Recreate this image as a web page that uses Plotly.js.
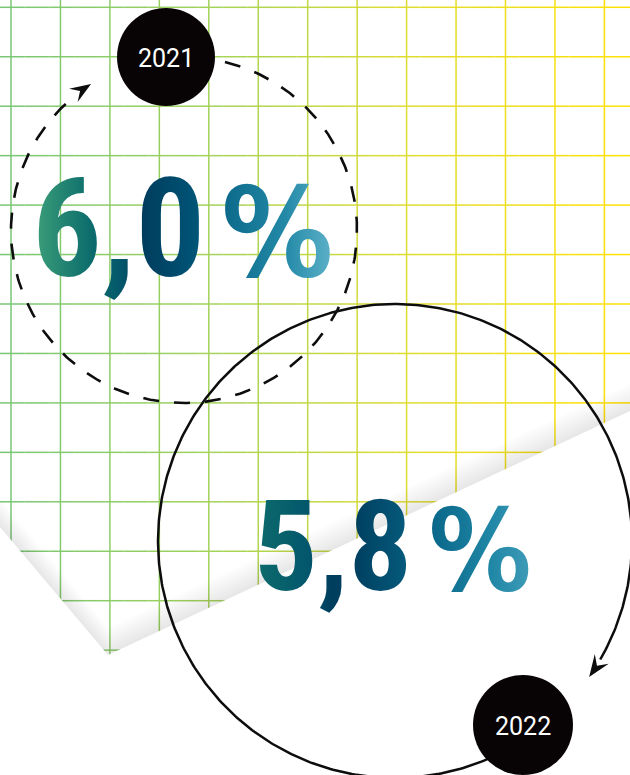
<!DOCTYPE html>
<html>
<head>
<meta charset="utf-8">
<script src="https://cdn.plot.ly/plotly-3.0.1.min.js"></script>
<style>
html,body{margin:0;padding:0;background:#fff;overflow:hidden}
#chart{width:630px;height:775px}
</style>
</head>
<body>
<div id="chart"></div>
<script>
// ---- data ----
const years = ['2021', '2022'];
const rates = [6.0, 5.8];
const rateNumbers = rates.map(v => v.toFixed(1).replace('.', ','));
const rateLabels = rateNumbers.map(s => s + ' %');

// ---- canvas geometry (pixel-like data space) ----
const W = 630, H = 775;
const GX0 = 11, GY0 = 7.3, STEP = 49.45;

function lerp(a, b, t) { return a + (b - a) * t; }
const gridStops = [[0, [118, 198, 118]], [200, [160, 210, 92]], [400, [222, 220, 50]], [630, [255, 226, 0]]];
function gridColor(x) {
  for (let i = 0; i < gridStops.length - 1; i++) {
    const [xa, ca] = gridStops[i], [xb, cb] = gridStops[i + 1];
    if (x <= xb) {
      const t = Math.max(0, (x - xa) / (xb - xa));
      return 'rgb(' + ca.map((c, k) => Math.round(lerp(c, cb[k], t))).join(',') + ')';
    }
  }
  return 'rgb(255,226,0)';
}

const shapes = [];
for (let x = GX0; x < W; x += STEP) {
  shapes.push({type: 'line', layer: 'below', xref: 'x', yref: 'y', x0: x, x1: x, y0: 0, y1: H,
    line: {color: gridColor(x), width: 1.5}});
}
for (let y = GY0; y < H; y += STEP) {
  for (let x = 0; x < W; x += STEP / 2) {
    const x1 = Math.min(W, x + STEP / 2);
    shapes.push({type: 'line', layer: 'below', xref: 'x', yref: 'y', x0: x, x1: x1, y0: y, y1: y,
      line: {color: gridColor((x + x1) / 2), width: 1.5}});
  }
}
// paper edge
const cut = [[0, 527], [108, 655], [630, 411], [630, H], [0, H]];
function polyPath(pts, dy) {
  return 'M' + pts.map(p => p[0] + ',' + (p[1] - dy)).join(' L') + ' Z';
}
for (let k = 1; k <= 12; k++) {
  shapes.push({type: 'path', layer: 'below', xref: 'x', yref: 'y', path: polyPath(cut, k * 2.3),
    fillcolor: 'rgba(120,120,120,0.011)', line: {width: 0}});
}
shapes.push({type: 'path', layer: 'below', xref: 'x', yref: 'y', path: polyPath(cut, 0),
  fillcolor: '#ffffff', line: {width: 0}});

// ---- circles ----
const deg = Math.PI / 180;
function arcPts(cx, cy, r, a0, a1, n) {
  const xs = [], ys = [];
  for (let i = 0; i <= n; i++) {
    const a = (a0 + (a1 - a0) * i / n) * deg;
    xs.push(cx + r * Math.cos(a));
    ys.push(cy - r * Math.sin(a));
  }
  return {xs, ys};
}
function arrowHead(cx, cy, r, aTip, L, Wd) {
  const a = aTip * deg;
  const T = [cx + r * Math.cos(a), cy - r * Math.sin(a)];
  const d = [Math.sin(a), Math.cos(a)];
  const n = [-d[1], d[0]];
  const B1 = [T[0] - L * d[0] + Wd * n[0], T[1] - L * d[1] + Wd * n[1]];
  const B2 = [T[0] - L * d[0] - Wd * n[0], T[1] - L * d[1] - Wd * n[1]];
  const N = [T[0] - 0.62 * L * d[0], T[1] - 0.62 * L * d[1]];
  return 'M' + [T, B1, N, B2].map(p => p[0].toFixed(2) + ',' + p[1].toFixed(2)).join(' L') + ' Z';
}

const C1 = {cx: 184, cy: 230, r: 173};
const C2 = {cx: 395, cy: 541, r: 237};
const a1 = arcPts(C1.cx, C1.cy, C1.r, 76.3, -231, 400);
const a2 = arcPts(C2.cx, C2.cy, C2.r, -58, -390, 500);

const data = [
  {type: 'scatter', mode: 'lines', x: a1.xs, y: a1.ys, hoverinfo: 'skip',
   line: {color: '#0d0d0d', width: 2.6, dash: '16px,15px'}},
  {type: 'scatter', mode: 'lines', x: a2.xs, y: a2.ys, hoverinfo: 'skip',
   line: {color: '#0d0d0d', width: 2.5}}
];

shapes.push({type: 'path', layer: 'above', xref: 'x', yref: 'y', path: arrowHead(C1.cx, C1.cy, C1.r, -237.5, 21, 8),
  fillcolor: '#0d0d0d', line: {width: 0}});
shapes.push({type: 'path', layer: 'above', xref: 'x', yref: 'y', path: arrowHead(C2.cx, C2.cy, C2.r, -395, 22, 8.5),
  fillcolor: '#0d0d0d', line: {width: 0}});

const badges = [{x: 166, y: 57, r: 49}, {x: 523, y: 725, r: 50}];
badges.forEach(b => shapes.push({type: 'circle', layer: 'above', xref: 'x', yref: 'y',
  x0: b.x - b.r, x1: b.x + b.r, y0: b.y - b.r, y1: b.y + b.r, fillcolor: '#080405', line: {width: 0}}));

const annotations = [];
years.forEach((yr, i) => annotations.push({x: badges[i].x, y: badges[i].y + 1, xref: 'x', yref: 'y',
  text: yr, showarrow: false, xanchor: 'center', yanchor: 'middle',
  font: {family: 'Roboto, Inter, sans-serif', size: 25, color: '#ffffff', weight: 400}}));

const bigPos = [{x: 30, y: 229, size: 138, gap: 70, pct: 124}, {x: 252, y: 547, size: 126, gap: 72, pct: 114}];
const bigFont = '"Liberation Sans Narrow", "Roboto Condensed", "DejaVu Sans Condensed", sans-serif';
rateNumbers.forEach((num, i) => {
  const txt = num + '<span style="font-size:' + bigPos[i].gap + 'px"> </span>' +
    '<span style="font-family:DejaVu Sans Condensed,DejaVu Sans;font-size:' + bigPos[i].pct + 'px">%</span>';
  annotations.push({x: bigPos[i].x, y: bigPos[i].y, xref: 'x', yref: 'y',
    text: txt, showarrow: false, xanchor: 'left', yanchor: 'middle',
    font: {family: bigFont, size: bigPos[i].size, color: '#005070', weight: 700}});
});

const layout = {
  width: W, height: H,
  margin: {l: 0, r: 0, t: 0, b: 0, pad: 0},
  paper_bgcolor: '#ffffff', plot_bgcolor: '#ffffff',
  showlegend: false,
  xaxis: {range: [0, W], visible: false, fixedrange: true},
  yaxis: {range: [H, 0], visible: false, fixedrange: true},
  shapes: shapes,
  annotations: annotations
};

const gradients = [
  [[0, '#3da079'], [0.2, '#0b6b6c'], [0.3, '#04566a'], [0.36, '#003c5c'], [0.55, '#005577'],
   [0.66, '#0f6d8e'], [0.84, '#2389a7'], [1, '#5fb2c9']],
  [[0, '#0c6c6b'], [0.2, '#03566c'], [0.28, '#003e5e'], [0.36, '#003f60'], [0.55, '#055a7b'],
   [0.66, '#0c6a8c'], [0.85, '#1f86a5'], [1, '#3f9cb8']]
];

const gd = document.getElementById('chart');
Plotly.newPlot(gd, data, layout, {staticPlot: true, displayModeBar: false}).then(() => {
  const NS = 'http://www.w3.org/2000/svg';
  gd.querySelectorAll('.annotation-text').forEach(t => {
    const content = t.textContent.replace(/\s/g, '');
    rateLabels.forEach((lab, i) => {
      if (content === lab.replace(/\s/g, '')) {
        const svg = t.ownerSVGElement;
        let defs = svg.querySelector('defs');
        if (!defs) { defs = document.createElementNS(NS, 'defs'); svg.insertBefore(defs, svg.firstChild); }
        const g = document.createElementNS(NS, 'linearGradient');
        g.setAttribute('id', 'rateGrad' + i);
        g.setAttribute('x1', '0'); g.setAttribute('y1', '0');
        g.setAttribute('x2', '1'); g.setAttribute('y2', '0');
        gradients[i].forEach(([o, c]) => {
          const s = document.createElementNS(NS, 'stop');
          s.setAttribute('offset', o); s.setAttribute('stop-color', c);
          g.appendChild(s);
        });
        defs.appendChild(g);
        t.style.fill = 'url(#rateGrad' + i + ')';
      }
    });
  });
});
</script>
</body>
</html>
